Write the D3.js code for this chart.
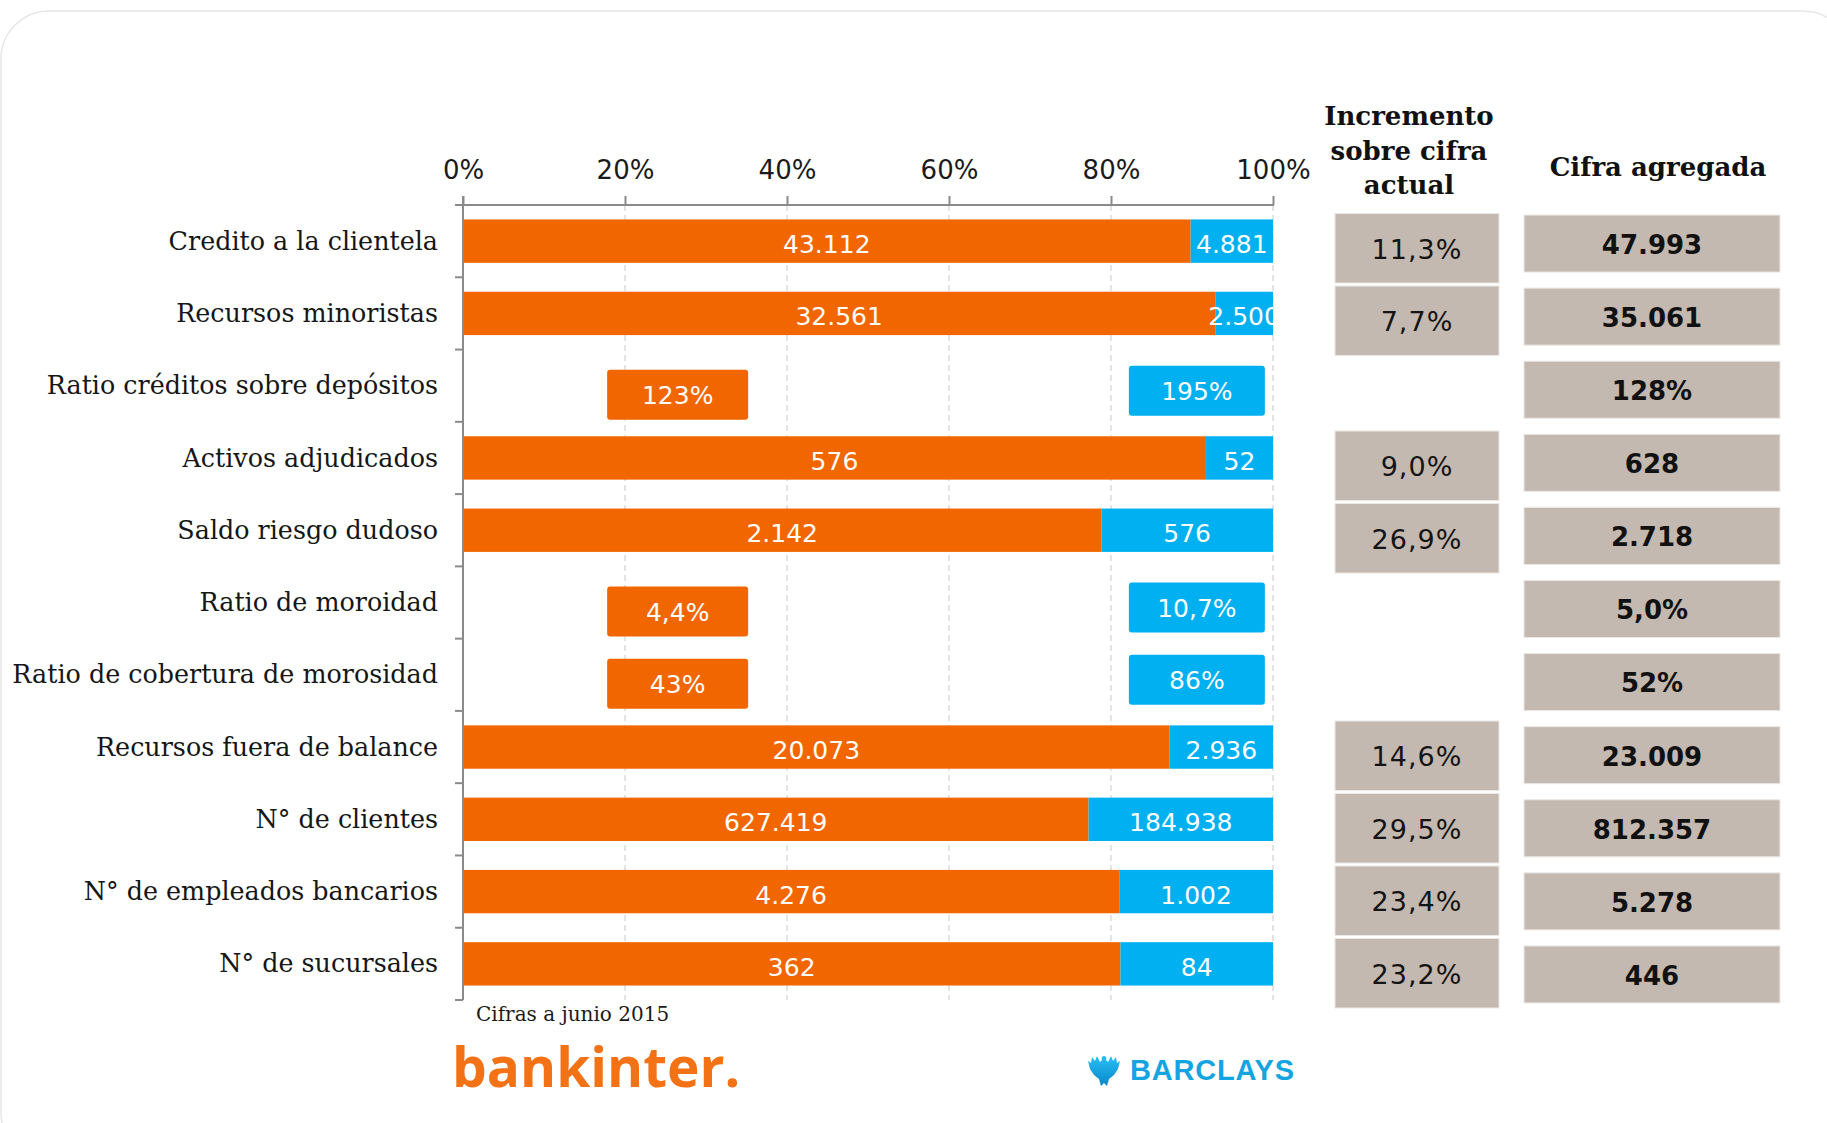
<!DOCTYPE html>
<html>
<head>
<meta charset="utf-8">
<script src="https://cdn.jsdelivr.net/npm/d3@7"></script>
<style>
  body { margin: 0; background: #fff; }
  svg { display: block; }
</style>
</head>
<body>
<div id="chart"></div>
<script>
// chart data
const categories = [
  'Credito a la clientela',
  'Recursos minoristas',
  'Ratio créditos sobre depósitos',
  'Activos adjudicados',
  'Saldo riesgo dudoso',
  'Ratio de moroidad',
  'Ratio de cobertura de morosidad',
  'Recursos fuera de balance',
  'N° de clientes',
  'N° de empleados bancarios',
  'N° de sucursales'
]
const bankinter = [43112, 32561, null, 576, 2142, null, null, 20073, 627419, 4276, 362]
const barclays = [4881, 2500, null, 52, 576, null, null, 2936, 184938, 1002, 84]
const ratioBankinter = [null, null, '123%', null, null, '4,4%', '43%', null, null, null, null]
const ratioBarclays = [null, null, '195%', null, null, '10,7%', '86%', null, null, null, null]
const ratioAggregate = [null, null, '128%', null, null, '5,0%', '52%', null, null, null, null]
const xTicks = [0, 0.2, 0.4, 0.6, 0.8, 1]
const headerIncrement = ['Incremento', 'sobre cifra', 'actual']
const headerAggregate = 'Cifra agregada'
const footnote = 'Cifras a junio 2015'

const ORANGE = '#f26600'
const BLUE = '#00b0f0'
const GREY_BOX = '#c4b9b0'
const W = 1827
const H = 1123

const es = d3.formatLocale({ decimal: ',', thousands: '.', grouping: [3], currency: ['', '€'] })
const fmtInt = es.format(',d')
const fmtPct = es.format('.1%')

const rows = categories.map((c, i) => {
  const bk = bankinter[i]
  const bc = barclays[i]
  const isRatio = bk == null
  return {
    cat: c,
    isRatio,
    bk,
    bc,
    total: isRatio ? null : bk + bc,
    incr: isRatio ? null : fmtPct(bc / bk),
    agg: isRatio ? ratioAggregate[i] : fmtInt(bk + bc),
    ratioBk: ratioBankinter[i],
    ratioBc: ratioBarclays[i]
  }
})

const svg = d3.select('#chart').append('svg')
  .attr('width', W)
  .attr('height', H)

// card outline
svg.append('rect')
  .attr('x', 1).attr('y', 11)
  .attr('width', 1850).attr('height', 1150)
  .attr('rx', 48)
  .attr('fill', '#fff')
  .attr('stroke', '#e6e6e6')
  .attr('stroke-width', 1.5)

const x = d3.scaleLinear().domain([0, 1]).range([463, 1273])
const y = d3.scaleBand().domain(categories).range([205, 1000])
  .paddingInner(0.4).paddingOuter(0.2)

svg.append('defs').append('clipPath').attr('id', 'plotClip')
  .append('rect')
  .attr('x', x(0)).attr('y', 0)
  .attr('width', x(1) - x(0)).attr('height', H)

// gridlines
svg.append('g')
  .selectAll('line')
  .data(xTicks.slice(1))
  .join('line')
  .attr('x1', d => x(d)).attr('x2', d => x(d))
  .attr('y1', y.range()[0]).attr('y2', y.range()[1])
  .attr('stroke', '#d6d6d6')
  .attr('stroke-width', 1.3)
  .attr('stroke-dasharray', '6,4')

// stacked bars (share of aggregate)
const barRows = rows.filter(r => !r.isRatio)
const gBars = svg.append('g')
gBars.selectAll('rect.bk')
  .data(barRows)
  .join('rect')
  .attr('class', 'bk')
  .attr('x', x(0))
  .attr('y', d => y(d.cat))
  .attr('width', d => x(d.bk / d.total) - x(0))
  .attr('height', y.bandwidth())
  .attr('fill', ORANGE)
gBars.selectAll('rect.bc')
  .data(barRows)
  .join('rect')
  .attr('class', 'bc')
  .attr('x', d => x(d.bk / d.total))
  .attr('y', d => y(d.cat))
  .attr('width', d => x(1) - x(d.bk / d.total))
  .attr('height', y.bandwidth())
  .attr('fill', BLUE)

const gLabels = svg.append('g')
  .attr('clip-path', 'url(#plotClip)')
  .attr('font-family', '"DejaVu Sans", sans-serif')
  .attr('font-size', 25)
  .attr('fill', '#fff')
  .attr('text-anchor', 'middle')
gLabels.selectAll('text.bk')
  .data(barRows)
  .join('text')
  .attr('class', 'bk')
  .attr('x', d => (x(0) + x(d.bk / d.total)) / 2)
  .attr('y', d => y(d.cat) + y.bandwidth() / 2 + 3)
  .attr('dy', '0.36em')
  .text(d => fmtInt(d.bk))
gLabels.selectAll('text.bc')
  .data(barRows)
  .join('text')
  .attr('class', 'bc')
  .attr('x', d => (x(d.bk / d.total) + x(1)) / 2)
  .attr('y', d => y(d.cat) + y.bandwidth() / 2 + 3)
  .attr('dy', '0.36em')
  .text(d => fmtInt(d.bc))

// ratio rows: labels shown as boxes
const ratioRows = rows.filter(r => r.isRatio)
const boxH = 50
const ratioSpecs = [
  { key: 'ratioBk', fill: ORANGE, pos: 0.265, w: 141, dy: 9 },
  { key: 'ratioBc', fill: BLUE, pos: 0.906, w: 136, dy: 5 }
]
ratioSpecs.forEach(s => {
  const g = svg.append('g')
  const item = g.selectAll('g')
    .data(ratioRows)
    .join('g')
    .attr('transform', d => `translate(${x(s.pos)},${y(d.cat) + y.bandwidth() / 2 + s.dy})`)
  item.append('rect')
    .attr('x', -s.w / 2).attr('y', -boxH / 2)
    .attr('width', s.w).attr('height', boxH)
    .attr('rx', 3)
    .attr('fill', s.fill)
  item.append('text')
    .attr('text-anchor', 'middle')
    .attr('dy', '0.36em')
    .attr('font-family', '"DejaVu Sans", sans-serif')
    .attr('font-size', 25)
    .attr('fill', '#fff')
    .text(d => d[s.key])
})

// axes
const axisColor = '#8a8a8a'
const xAxis = svg.append('g')
  .attr('transform', `translate(0,${y.range()[0]})`)
  .call(d3.axisTop(x).tickValues(xTicks).tickFormat(d3.format('.0%')).tickSize(9).tickPadding(17))
xAxis.select('.domain').remove()
xAxis.selectAll('.tick line').attr('stroke', axisColor).attr('stroke-width', 2)
xAxis.selectAll('.tick text')
  .attr('font-family', '"DejaVu Sans", sans-serif')
  .attr('font-size', 26)
  .attr('fill', '#1a1a1a')
svg.append('line')
  .attr('x1', x(0) - 8).attr('x2', x(1) + 1)
  .attr('y1', y.range()[0]).attr('y2', y.range()[0])
  .attr('stroke', axisColor).attr('stroke-width', 2)
svg.append('line')
  .attr('x1', x(0)).attr('x2', x(0))
  .attr('y1', y.range()[0] - 9).attr('y2', y.range()[1])
  .attr('stroke', axisColor).attr('stroke-width', 2)

const edges = categories.map(c => y(c) - y.step() * y.paddingInner() / 2).concat([y.range()[1]])
svg.append('g')
  .selectAll('line')
  .data(edges)
  .join('line')
  .attr('x1', x(0) - 8).attr('x2', x(0))
  .attr('y1', d => d).attr('y2', d => d)
  .attr('stroke', axisColor).attr('stroke-width', 2)

svg.append('g')
  .attr('font-family', '"DejaVu Serif", serif')
  .attr('font-size', 25.4)
  .attr('fill', '#161616')
  .attr('text-anchor', 'end')
  .selectAll('text')
  .data(categories)
  .join('text')
  .attr('x', x(0) - 25)
  .attr('y', d => y(d) + y.bandwidth() / 2 + 1)
  .attr('dy', '0.3em')
  .text(d => d)

// side table
const colInc = { x: 1335, w: 164 }
const colAgg = { x: 1524, w: 256 }
const yInc = d3.scaleBand().domain(categories).range([212, 1009.5])
  .paddingInner(0.0414).paddingOuter(0.0207)
const yAgg = d3.scaleBand().domain(categories).range([207, 1011])
  .paddingInner(0.22).paddingOuter(0.11)

const incRows = rows.filter(r => r.incr)
const gInc = svg.append('g').selectAll('g')
  .data(incRows)
  .join('g')
  .attr('transform', d => `translate(${colInc.x},${yInc(d.cat)})`)
gInc.append('rect')
  .attr('width', colInc.w).attr('height', yInc.bandwidth())
  .attr('fill', GREY_BOX).attr('stroke', '#ece7e3').attr('stroke-width', 1)
gInc.append('text')
  .attr('x', colInc.w / 2).attr('y', yInc.bandwidth() / 2 + 1)
  .attr('dy', '0.36em')
  .attr('text-anchor', 'middle')
  .attr('font-family', '"DejaVu Sans", sans-serif')
  .attr('font-size', 27)
  .attr('letter-spacing', 1)
  .attr('fill', '#141414')
  .text(d => d.incr)

const gAgg = svg.append('g').selectAll('g')
  .data(rows)
  .join('g')
  .attr('transform', d => `translate(${colAgg.x},${yAgg(d.cat)})`)
gAgg.append('rect')
  .attr('width', colAgg.w).attr('height', yAgg.bandwidth())
  .attr('fill', GREY_BOX).attr('stroke', '#ece7e3').attr('stroke-width', 1)
gAgg.append('text')
  .attr('x', colAgg.w / 2).attr('y', yAgg.bandwidth() / 2 + 1)
  .attr('dy', '0.36em')
  .attr('text-anchor', 'middle')
  .attr('font-family', '"DejaVu Sans", sans-serif')
  .attr('font-weight', 'bold')
  .attr('font-size', 26)
  .attr('fill', '#111')
  .text(d => d.agg)

// headers
const gHead = svg.append('g')
  .attr('font-family', '"DejaVu Serif", serif')
  .attr('font-weight', 'bold')
  .attr('font-size', 26)
  .attr('fill', '#111')
  .attr('text-anchor', 'middle')
gHead.selectAll('text.inc')
  .data(headerIncrement)
  .join('text')
  .attr('class', 'inc')
  .attr('x', 1409)
  .attr('y', (d, i) => 125 + i * 34.5)
  .text(d => d)
gHead.append('text')
  .attr('x', 1658).attr('y', 176)
  .text(headerAggregate)

// footnote and logos
svg.append('text')
  .attr('x', 476).attr('y', 1021)
  .attr('font-family', '"DejaVu Serif", serif')
  .attr('font-size', 20)
  .attr('fill', '#1a1a1a')
  .text(footnote)

svg.append('text')
  .attr('x', 452).attr('y', 1087)
  .attr('font-family', '"Open Sans", sans-serif')
  .attr('font-weight', 700)
  .attr('font-size', 55)
  .attr('letter-spacing', 0)
  .attr('fill', '#f47216')
  .text('bankinter.')

const grad = svg.select('defs').append('linearGradient')
  .attr('id', 'eagleGrad').attr('x1', 0).attr('y1', 0).attr('x2', 0).attr('y2', 1)
grad.append('stop').attr('offset', 0).attr('stop-color', '#27c0f5')
grad.append('stop').attr('offset', 1).attr('stop-color', '#0a86c8')
svg.append('path')
  .attr('transform', 'translate(1087,1053)')
  .attr('d', 'M17 3 C19 3 20 5 19 7 L21 9 L24 3 L26 8 L29 4 L30 10 L33 8 L31 16 L27 22 L22 26 L20 33 L17 30 L14 33 L12 26 L7 22 L3 16 L1 8 L4 10 L5 4 L8 8 L10 3 L13 9 L15 7 C14 5 15 3 17 3 Z')
  .attr('fill', 'url(#eagleGrad)')
svg.append('text')
  .attr('x', 1130).attr('y', 1080)
  .attr('font-family', '"Liberation Sans", sans-serif')
  .attr('font-weight', 'bold')
  .attr('font-size', 29)
  .attr('letter-spacing', 0.8)
  .attr('fill', '#14a5e0')
  .text('BARCLAYS')
</script>
</body>
</html>
